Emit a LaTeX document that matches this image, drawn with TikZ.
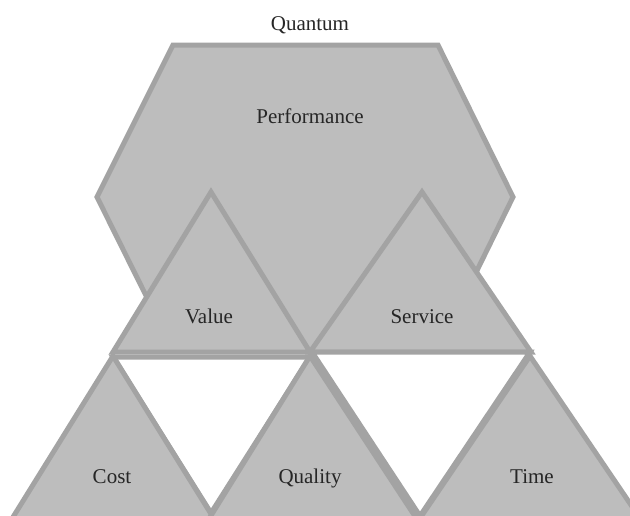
\documentclass[tikz,border=0pt]{standalone}
\usepackage{fontspec}
\setmainfont{Liberation Serif}
\usepackage{tikz}

\definecolor{facetgray}{RGB}{189,189,189}
\definecolor{edgegray}{RGB}{163,163,163}

\begin{document}
\begin{tikzpicture}[x=1pt,y=-1pt,facet/.style={fill=facetgray, draw=edgegray,
    line width=5pt},gap/.style={fill=white, draw=edgegray, line width=5pt},
    lbl/.style={anchor=base, text=black!85, font=\fontsize{21}{25}\selectfont}]

  \clip (0,0) rectangle (630,515);
  \fill[white] (0,0) rectangle (630,515);

  % top level
  \draw[facet] (173,45) -- (438,45) -- (513,197) -- (438,350) -- (173,350) -- (97,197) -- cycle;
  % middle row
  \draw[facet] (211,192) -- (310,352) -- (113,352) -- cycle;
  \draw[facet] (422,192) -- (531,352) -- (310,352) -- cycle;
  % white gaps
  \draw[gap] (113,357) -- (310,357) -- (211,513) -- cycle;
  \draw[gap] (312,352) -- (530,352) -- (420,516) -- cycle;
  % bottom row
  \draw[facet] (113,356) -- (221,530) -- (5,530) -- cycle;
  \draw[facet] (310,356) -- (424,530) -- (202,530) -- cycle;
  \draw[facet] (530,356) -- (648,530) -- (412,530) -- cycle;

  \node[lbl] (quantum) at (310,30) {Quantum};
  \node[lbl] (perf) at (310,123) {Performance};
  \node[lbl] (value) at (209,323) {Value};
  \node[lbl] (service) at (422,323) {Service};
  \node[lbl] (cost) at (112,483) {Cost};
  \node[lbl] (quality) at (310,483) {Quality};
  \node[lbl] (time) at (532,483) {Time};

\end{tikzpicture}
\end{document}
